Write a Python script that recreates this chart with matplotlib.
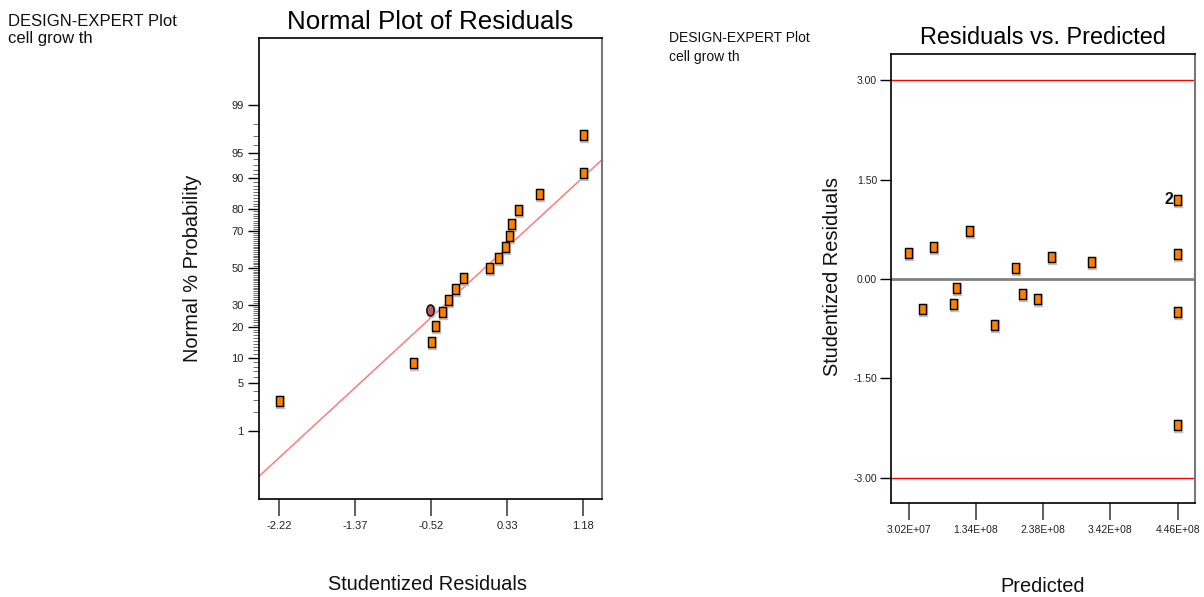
import matplotlib
matplotlib.use("Agg")
import matplotlib.pyplot as plt
import matplotlib.transforms as mtransforms
from matplotlib.ticker import FixedLocator
from statistics import NormalDist
import numpy as np

plt.rcParams['font.family'] = ['Liberation Sans', 'DejaVu Sans']

# ---------------- data ----------------
# Normal plot of residuals
normal_resid = [-2.22, -0.72, -0.52, -0.48, -0.40, -0.33, -0.25, -0.16, 0.13,
                0.23, 0.31, 0.35, 0.38, 0.45, 0.69, 1.18, 1.18]
normal_prob = [2.9, 8.8, 14.7, 20.6, 26.5, 32.4, 38.2, 44.1, 50.0,
               55.9, 61.8, 67.6, 73.5, 79.4, 85.3, 91.2, 97.1]
highlight_resid = [-0.53]
highlight_prob = [27.3]
fit_slope = 1.177          # reference line in z-units per residual unit
fit_intercept = -0.095
prob_major = [1, 5, 10, 20, 30, 50, 70, 80, 90, 95, 99]
prob_minor = list(range(1, 100))
normal_xticks = [-2.22, -1.37, -0.52, 0.33, 1.18]

# Residuals vs predicted
predicted = [2.91e7, 5.07e7, 6.72e7, 9.85e7, 1.031e8, 1.231e8, 1.616e8, 1.94e8,
             2.048e8, 2.29e8, 2.505e8, 3.126e8, 4.446e8, 4.446e8, 4.446e8, 4.446e8]
student_resid = [0.40, -0.45, 0.48, -0.37, -0.13, 0.72, -0.69, 0.17,
                 -0.22, -0.30, 0.33, 0.26, 1.20, 0.38, -0.49, -2.20]
count_labels = ["", "", "", "", "", "", "", "", "", "", "", "", "2", "", "", ""]
limit_lines = [3.0, -3.0]
rvp_xticks = [3.02e7, 1.34e8, 2.38e8, 3.42e8, 4.46e8]
rvp_xticklabels = ["3.02E+07", "1.34E+08", "2.38E+08", "3.42E+08", "4.46E+08"]
rvp_yticks = [3.0, 1.5, 0.0, -1.5, -3.0]

# ---------------- helpers ----------------
nd = NormalDist()
def z(p):
    return nd.inv_cdf(p / 100.0)

rect = [(-0.35, -0.5), (0.35, -0.5), (0.35, 0.5), (-0.35, 0.5), (-0.35, -0.5)]
th = np.linspace(0, 2 * np.pi, 41)
ellipse = list(zip(0.33 * np.cos(th), 0.5 * np.sin(th)))

ORANGE = '#FF8000'

fig = plt.figure(figsize=(12.04, 5.97), dpi=100)

def shadowed(ax, x, y, marker, ms, fc):
    sh = mtransforms.offset_copy(ax.transData, fig=fig, x=1.0, y=-1.0, units='dots')
    ax.plot(x, y, linestyle='none', marker=marker, markersize=ms + 1.2,
            markerfacecolor='#c0c0c0', markeredgecolor='#c0c0c0',
            transform=sh, zorder=3, clip_on=False)
    ax.plot(x, y, linestyle='none', marker=marker, markersize=ms,
            markerfacecolor=fc, markeredgecolor='black', markeredgewidth=1.0,
            zorder=4, clip_on=False)

# ---------------- left: normal plot ----------------
ax1 = fig.add_axes([259 / 1204, 1 - 499 / 597, 343 / 1204, 461 / 597])
xl = (-2.444, 1.393)
ax1.set_xlim(*xl)
ax1.set_ylim(-3.295, 3.281)
xs = np.array(xl)
ax1.plot(xs, fit_slope * xs + fit_intercept, color='#FF7B7B', lw=1.1, zorder=2)
shadowed(ax1, normal_resid, [z(p) for p in normal_prob], rect, 7.2, ORANGE)
shadowed(ax1, highlight_resid, [z(p) for p in highlight_prob], ellipse, 8.0, '#B85C5C')

ax1.set_yticks([z(p) for p in prob_major])
ax1.set_yticklabels([str(p) for p in prob_major])
ax1.yaxis.set_minor_locator(FixedLocator([z(p) for p in prob_minor if p not in prob_major]))
ax1.set_xticks(normal_xticks)
ax1.set_xticklabels(["%.2f" % v for v in normal_xticks])
ax1.tick_params(axis='y', which='major', direction='out', length=8, width=1,
                labelsize=8, pad=3, color='black', labelcolor='#222222')
ax1.tick_params(axis='y', which='minor', direction='out', length=4, width=0.6,
                color='#555555')
ax1.tick_params(axis='x', which='major', direction='out', length=12, width=1.2,
                labelsize=8, pad=4, color='#444444', labelcolor='#222222')
for s in ['left', 'top', 'bottom']:
    ax1.spines[s].set_color('black')
    ax1.spines[s].set_linewidth(1.2)
ax1.spines['right'].set_color('#777777')
ax1.spines['right'].set_linewidth(1.5)

fig.text(430 / 1204, 1 - 22 / 597, "Normal Plot of Residuals", ha='center', va='center',
         fontsize=18.7, color='black')
fig.text(192 / 1204, 1 - 268 / 597, "Normal % Probability", ha='center', va='center',
         rotation=90, fontsize=14.4, color='#111111')
fig.text(428 / 1204, 1 - 585 / 597, "Studentized Residuals", ha='center', va='center',
         fontsize=14.4, color='#111111')
fig.text(8 / 1204, 1 - 26 / 597, "DESIGN-EXPERT Plot", ha='left', va='baseline',
         fontsize=12, color='#111111')
fig.text(8 / 1204, 1 - 43 / 597, "cell grow th", ha='left', va='baseline',
         fontsize=12, color='#111111')

# ---------------- right: residuals vs predicted ----------------
ax2 = fig.add_axes([891 / 1204, 1 - 503 / 597, 304 / 1204, 449 / 597])
ax2.set_xlim(2.9e6, 4.727e8)
ax2.set_ylim(-3.38, 3.40)
for v in limit_lines:
    ax2.axhline(v, color='red', lw=1.0, zorder=2)
ax2.axhline(0.0, color='#808080', lw=2.0, zorder=2)
shadowed(ax2, predicted, student_resid, rect, 7.2, ORANGE)
for xv, yv, lab in zip(predicted, student_resid, count_labels):
    if lab:
        ax2.annotate(lab, (xv, yv), xytext=(-2.5, 0), textcoords='offset points',
                     ha='right', va='center', fontsize=11.5, fontweight='bold', color='#111111')
ax2.set_xticks(rvp_xticks)
ax2.set_xticklabels(rvp_xticklabels)
ax2.set_yticks(rvp_yticks)
ax2.set_yticklabels(["%.2f" % v for v in rvp_yticks])
ax2.tick_params(axis='y', direction='out', length=8, width=1, labelsize=7.5, pad=2,
                color='black', labelcolor='#222222')
ax2.tick_params(axis='x', direction='out', length=12, width=1.2, labelsize=7.5, pad=4,
                color='#444444', labelcolor='#222222')
for s in ['left', 'top', 'bottom']:
    ax2.spines[s].set_color('black')
    ax2.spines[s].set_linewidth(1.2)
ax2.spines['right'].set_color('#777777')
ax2.spines['right'].set_linewidth(1.5)

fig.text(1043 / 1204, 1 - 38 / 597, "Residuals vs. Predicted", ha='center', va='center',
         fontsize=16.9, color='black')
fig.text(833 / 1204, 1 - 277 / 597, "Studentized Residuals", ha='center', va='center',
         rotation=90, fontsize=14.4, color='#111111')
fig.text(1043 / 1204, 1 - 587 / 597, "Predicted", ha='center', va='center',
         fontsize=14.4, color='#111111')
fig.text(669 / 1204, 1 - 42 / 597, "DESIGN-EXPERT Plot", ha='left', va='baseline',
         fontsize=10, color='#111111')
fig.text(669 / 1204, 1 - 61 / 597, "cell grow th", ha='left', va='baseline',
         fontsize=10, color='#111111')

fig.savefig("out.png", dpi=100, facecolor='white')
